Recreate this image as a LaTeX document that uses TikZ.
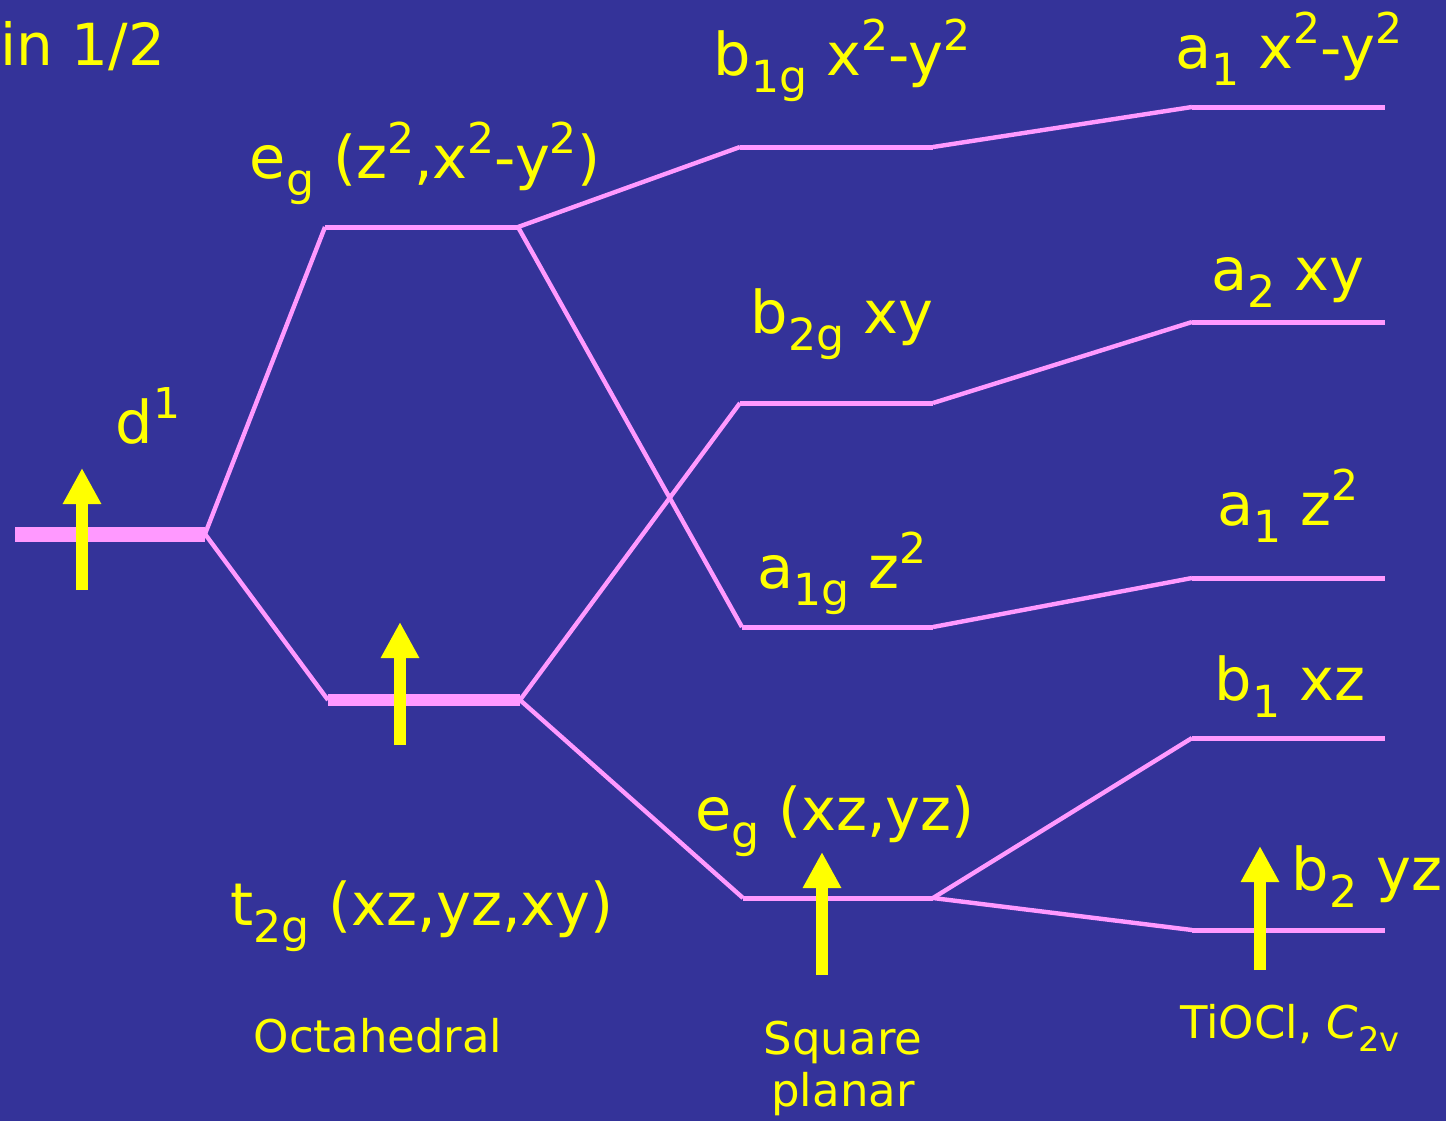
\documentclass[tikz,border=0pt]{standalone}
\usepackage{fontspec}
\setmainfont{DejaVu Sans}
\usepackage{graphicx}
\usetikzlibrary{arrows.meta}
\definecolor{bg}{RGB}{52,51,153}
\definecolor{lvl}{RGB}{255,153,255}
\definecolor{yel}{RGB}{255,255,0}
\newcommand\Lo[1]{\raisebox{-0.3em}{\scalebox{0.75}{#1}}}
\newcommand\Hi[1]{\raisebox{0.42em}{\scalebox{0.72}{#1}}}
\begin{document}
\begin{tikzpicture}[x=0.5pt,y=-0.5pt,
  lev/.style={draw=lvl,line width=2.5pt},
  thicklev/.style={draw=lvl,line width=7.5pt},
  midlev/.style={draw=lvl,line width=6pt},
  conn/.style={draw=lvl,line width=2.2pt},
  lbl/.style={text=yel,font=\fontsize{29.5}{34}\selectfont,inner sep=0pt,anchor=base},
  captxt/.style={text=yel,font=\fontsize{22.5}{26}\selectfont,inner sep=0pt,anchor=base,align=center},
  spin/.style={draw=yel,line width=6pt,-{Triangle[width=18pt,length=18pt]}}]
\fill[bg] (0,0) rectangle (1446,1121);
\useasboundingbox (0,0) rectangle (1446,1121);
% level coordinates
\coordinate (d1L) at (15,534);   \coordinate (d1R) at (205,534);
\coordinate (oeL) at (325,227);  \coordinate (oeR) at (518,227);
\coordinate (otL) at (328,700);  \coordinate (otR) at (520,700);
\coordinate (sbaL) at (740,147); \coordinate (sbaR) at (933,147);
\coordinate (sbbL) at (740,403); \coordinate (sbbR) at (933,403);
\coordinate (saL) at (742,627);  \coordinate (saR) at (933,627);
\coordinate (seL) at (743,898);  \coordinate (seR) at (933,898);
\coordinate (caaL) at (1192,107); \coordinate (caaR) at (1385,107);
\coordinate (cabL) at (1192,322); \coordinate (cabR) at (1385,322);
\coordinate (czL) at (1192,578); \coordinate (czR) at (1385,578);
\coordinate (cbaL) at (1192,738); \coordinate (cbaR) at (1385,738);
\coordinate (cbbL) at (1192,930); \coordinate (cbbR) at (1385,930);
% levels
\draw[thicklev] (d1L) -- (d1R);
\draw[lev] (oeL) -- (oeR);
\draw[midlev] (otL) -- (otR);
\draw[lev] (sbaL) -- (sbaR);
\draw[lev] (sbbL) -- (sbbR);
\draw[lev] (saL) -- (saR);
\draw[lev] (seL) -- (seR);
\draw[lev] (caaL) -- (caaR);
\draw[lev] (cabL) -- (cabR);
\draw[lev] (czL) -- (czR);
\draw[lev] (cbaL) -- (cbaR);
\draw[lev] (cbbL) -- (cbbR);
% connectors
\draw[conn] (d1R) -- (oeL);
\draw[conn] (d1R) -- (otL);
\draw[conn] (oeR) -- (sbaL);
\draw[conn] (oeR) -- (saL);
\draw[conn] (otR) -- (sbbL);
\draw[conn] (otR) -- (seL);
\draw[conn] (sbaR) -- (caaL);
\draw[conn] (sbbR) -- (cabL);
\draw[conn] (saR) -- (czL);
\draw[conn] (seR) -- (cbaL);
\draw[conn] (seR) -- (cbbL);
% spins
\coordinate (s1a) at (82,590);   \coordinate (s1b) at (82,468);
\coordinate (s2a) at (400,745);  \coordinate (s2b) at (400,622);
\coordinate (s3a) at (822,975);  \coordinate (s3b) at (822,852);
\coordinate (s4a) at (1260,970); \coordinate (s4b) at (1260,846);
\draw[spin] (s1a) -- (s1b);
\draw[spin] (s2a) -- (s2b);
\draw[spin] (s3a) -- (s3b);
\draw[spin] (s4a) -- (s4b);
% labels
\node[lbl,anchor=base west,font=\fontsize{29}{34}\selectfont] (t0) at (0,65) {in 1/2};
\node[lbl] (t1) at (425,178) {e\Lo{g} (z\Hi{2},x\Hi{2}-y\Hi{2})};
\node[lbl] (t2) at (842,75) {b\Lo{1g} x\Hi{2}-y\Hi{2}};
\node[lbl] (t3) at (1289,68) {a\Lo{1} x\Hi{2}-y\Hi{2}};
\node[lbl] (t4) at (1288,290) {a\Lo{2} xy};
\node[lbl] (t5) at (842,333) {b\Lo{2g} xy};
\node[lbl] (t6) at (148,443) {d\Hi{1}};
\node[lbl] (t7) at (1288,525) {a\Lo{1} z\Hi{2}};
\node[lbl] (t8) at (842,588) {a\Lo{1g} z\Hi{2}};
\node[lbl] (t9) at (1290,700) {b\Lo{1} xz};
\node[lbl] (t10) at (835,830) {e\Lo{g} (xz,yz)};
\node[lbl] (t11) at (1367,890) {b\Lo{2} yz};
\node[lbl] (t12) at (422,925) {t\Lo{2g} (xz,yz,xy)};
\node[captxt] (c1) at (378,1052) {Octahedral};
\node[captxt] (c2) at (843,1106) {Square\\planar};
\node[captxt] (c3) at (1290,1038) {TiOCl, \textit{C}\Lo{2v}};
\end{tikzpicture}
\end{document}
